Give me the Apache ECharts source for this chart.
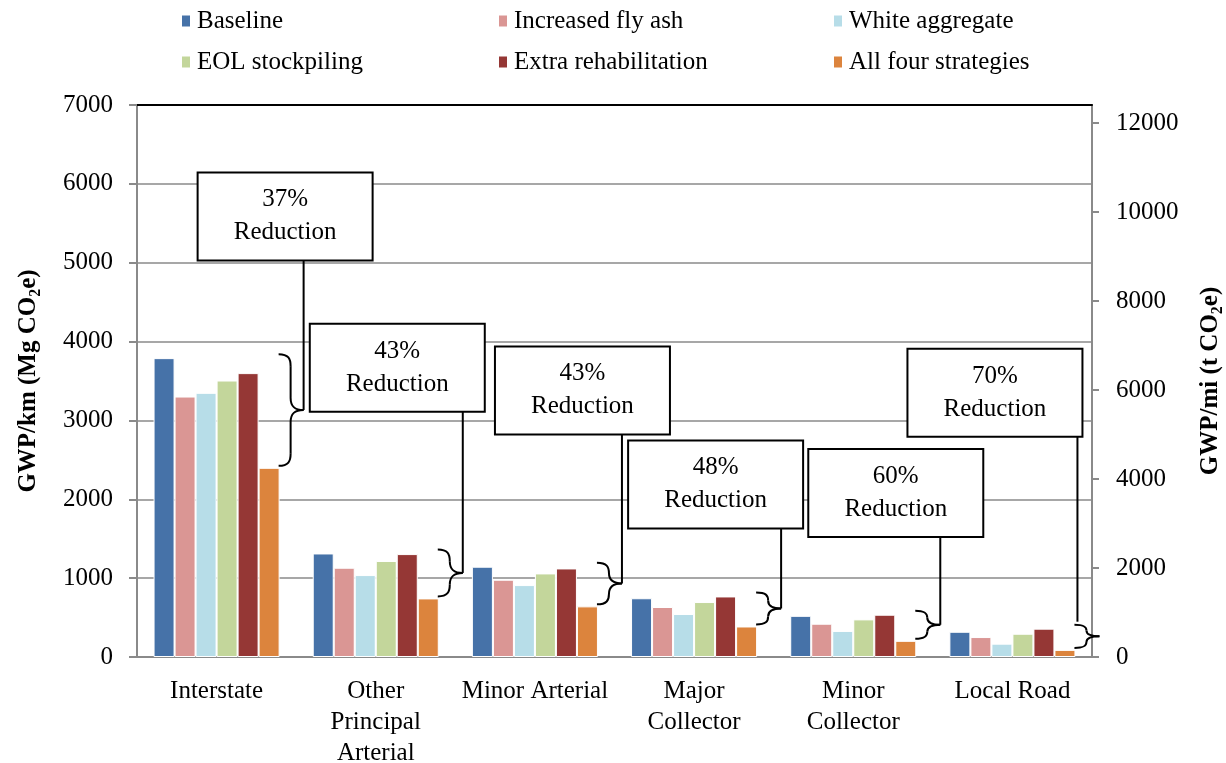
<!DOCTYPE html>
<html>
<head>
<meta charset="utf-8">
<script src="https://cdn.jsdelivr.net/npm/echarts@6/dist/echarts.min.js"></script>
<style>
html, body { margin: 0; padding: 0; background: #fff; }
#chart { width: 1226px; height: 763px; }
</style>
</head>
<body>
<div id="chart"></div>
<script>
// road classes on the x axis
const categories = ['Interstate', 'Other\nPrincipal\nArterial', 'Minor Arterial', 'Major\nCollector', 'Minor\nCollector', 'Local Road'];

// GWP per km (Mg CO2e)
const baseline = [3790, 1313, 1145, 745, 522, 320];
const increasedFlyAsh = [3303, 1132, 980, 634, 422, 253];
const whiteAggregate = [3350, 1039, 912, 545, 330, 169];
const eolStockpiling = [3506, 1217, 1060, 697, 477, 295];
const extraRehab = [3600, 1305, 1123, 768, 536, 359];
const allFour = [2399, 743, 642, 387, 205, 90];

const seriesNames = ['Baseline', 'Increased fly ash', 'White aggregate', 'EOL stockpiling', 'Extra rehabilitation', 'All four strategies'];
const reductions = ['37%', '43%', '43%', '48%', '60%', '70%'];

const leftTicks = { min: 0, max: 7000, interval: 1000 };
const rightTicks = { min: 0, max: 12410, interval: 2000 };

const colors = ['#4672a8', '#da9694', '#b7dde8', '#c3d69b', '#953735', '#dc843d'];
const font = 'Liberation Serif';

// where each callout box sits: dx from the brace tip (px), top in left-axis units
const noteLayout = [
    { dx: -106, top: 6145, leaderDx: 0, toTip: true },
    { dx: -153, top: 4226, leaderDx: 0, toTip: true },
    { dx: -127, top: 3939, leaderDx: 0, toTip: true },
    { dx: -153, top: 2747, leaderDx: 0, toTip: true },
    { dx: -132, top: 2638, leaderDx: 0, toTip: true },
    { dx: -192, top: 3910, leaderDx: -22, toTip: false }
];

const allSeries = [baseline, increasedFlyAsh, whiteAggregate, eolStockpiling, extraRehab, allFour];
const catGap = 0.208;

const chart = echarts.init(document.getElementById('chart'));

function legendBlock(names, left) {
    return {
        data: names,
        left: left,
        top: 7,
        orient: 'vertical',
        icon: 'rect',
        itemWidth: 10,
        itemHeight: 13,
        itemGap: 13,
        padding: 0,
        selectedMode: false,
        textStyle: { fontFamily: font, fontSize: 25, color: '#000', lineHeight: 28, padding: [0, 0, 0, 1] }
    };
}

const axisGray = '#8a8a8a';
const nameRich = {
    t: { fontFamily: font, fontSize: 25, fontWeight: 'bold', color: '#000', lineHeight: 30 },
    s: { fontFamily: font, fontSize: 16, fontWeight: 'bold', color: '#000', lineHeight: 30, verticalAlign: 'bottom' }
};

const option = {
    animation: false,
    color: colors,
    grid: { left: 137, right: 134, top: 105, bottom: 106, outerBoundsMode: 'none' },
    legend: [
        legendBlock([seriesNames[0], seriesNames[3]], 180),
        legendBlock([seriesNames[1], seriesNames[4]], 497),
        legendBlock([seriesNames[2], seriesNames[5]], 832)
    ],
    xAxis: [{
        type: 'category',
        data: categories,
        axisLine: { lineStyle: { color: axisGray, width: 2 } },
        axisTick: { length: 7, lineStyle: { color: axisGray, width: 2 } },
        axisLabel: { interval: 0, margin: 19, fontFamily: font, fontSize: 25, color: '#000', lineHeight: 31 }
    }, {
        type: 'category',
        data: categories,
        position: 'top',
        axisLine: { onZero: false, lineStyle: { color: '#000', width: 2 } },
        axisTick: { show: false },
        axisLabel: { show: false }
    }],
    yAxis: [{
        type: 'value',
        min: leftTicks.min,
        max: leftTicks.max,
        interval: leftTicks.interval,
        name: '{t|GWP/km (Mg CO}{s|2}{t|e)}',
        nameLocation: 'middle',
        nameRotate: 90,
        nameGap: 93,
        nameTextStyle: { rich: nameRich },
        axisLine: { show: true, lineStyle: { color: axisGray, width: 2 } },
        axisTick: { show: true, length: 8, lineStyle: { color: axisGray, width: 2 } },
        axisLabel: { margin: 24, fontFamily: font, fontSize: 25, color: '#000', formatter: v => String(v) },
        splitLine: { showMaxLine: false, lineStyle: { color: axisGray, width: 1.5 } }
    }, {
        type: 'value',
        position: 'right',
        min: rightTicks.min,
        max: rightTicks.max,
        interval: rightTicks.interval,
        name: '{t|GWP/mi (t CO}{s|2}{t|e)}',
        nameLocation: 'middle',
        nameRotate: 90,
        nameGap: 104,
        nameTextStyle: { rich: nameRich },
        axisLine: { show: true, lineStyle: { color: axisGray, width: 2 } },
        axisTick: { show: true, length: 7, lineStyle: { color: axisGray, width: 2 } },
        axisLabel: { margin: 24, showMaxLabel: false, fontFamily: font, fontSize: 25, color: '#000', formatter: v => String(v) },
        splitLine: { show: false }
    }],
    series: allSeries.map((vals, i) => ({
        name: seriesNames[i],
        type: 'bar',
        data: vals,
        barGap: '0%',
        barCategoryGap: (catGap * 100) + '%',
        itemStyle: { borderColor: '#fff', borderWidth: 1 }
    }))
};

chart.setOption(option);

function brace(x0, yT, yB) {
    const w = 25, xm = x0 + 12, tip = x0 + w;
    const yM = (yT + yB) / 2;
    const r = Math.min(12, (yB - yT) / 4);
    const ls = { stroke: '#000', lineWidth: 2, fill: 'none' };
    const curve = (x1, y1, c1x, c1y, c2x, c2y, x2, y2) => ({
        type: 'bezierCurve', z: 100,
        shape: { x1: x1, y1: y1, cpx1: c1x, cpy1: c1y, cpx2: c2x, cpy2: c2y, x2: x2, y2: y2 },
        style: ls
    });
    const line = (x1, y1, x2, y2) => ({ type: 'line', z: 100, shape: { x1: x1, y1: y1, x2: x2, y2: y2 }, style: ls });
    return [
        curve(x0, yT, xm - 2, yT, xm, yT + r * 0.4, xm, yT + r),
        line(xm, yT + r, xm, yM - r),
        curve(xm, yM - r, xm, yM - r * 0.3, xm + 4, yM, tip, yM),
        curve(tip, yM, xm + 4, yM, xm, yM + r * 0.3, xm, yM + r),
        line(xm, yM + r, xm, yB - r),
        curve(xm, yB - r, xm, yB - r * 0.4, xm - 2, yB, x0, yB)
    ];
}

function drawNotes() {
    const px = (i, v) => chart.convertToPixel({ xAxisIndex: 0, yAxisIndex: 0 }, [i, v]);
    const band = px(1, 0)[0] - px(0, 0)[0];
    const els = [];
    categories.forEach((c, i) => {
        const top = Math.max.apply(null, allSeries.map(s => s[i]));
        const center = px(i, 0)[0];
        const x0 = center + band * (1 - catGap) / 2 - 1;
        const yT = px(i, top)[1] - 4;
        const yB = px(i, allFour[i])[1] - 2;
        els.push.apply(els, brace(x0, yT, yB));
        const tipX = x0 + 25, tipY = (yT + yB) / 2;
        const lay = noteLayout[i];
        const bx = tipX + lay.dx, by = px(i, lay.top)[1];
        const bw = 175, bh = 88;
        const lx = tipX + lay.leaderDx;
        els.push({
            type: 'line', z: 100,
            shape: { x1: lx, y1: by + bh, x2: lx, y2: lay.toTip ? tipY : yT - 3 },
            style: { stroke: '#000', lineWidth: 2 }
        });
        els.push({
            type: 'rect', z: 101,
            shape: { x: bx, y: by, width: bw, height: bh },
            style: { fill: '#fff', stroke: '#000', lineWidth: 2 }
        });
        els.push({
            type: 'text', z: 102,
            x: bx + bw / 2, y: by + bh / 2,
            style: {
                text: reductions[i] + '\nReduction',
                align: 'center', verticalAlign: 'middle',
                fontFamily: font, fontSize: 25, lineHeight: 33, fill: '#000'
            }
        });
    });
    chart.setOption({ graphic: els });
}

drawNotes();
</script>
</body>
</html>
